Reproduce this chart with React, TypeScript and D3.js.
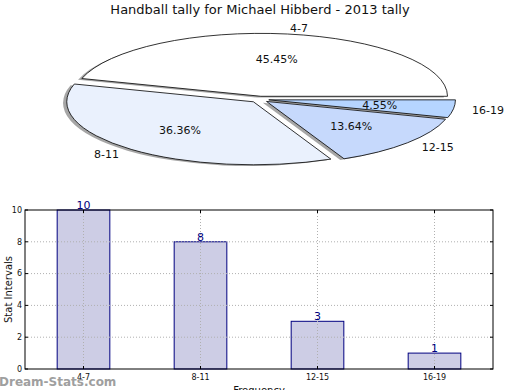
import * as d3 from 'd3';

const categories = ['4-7', '8-11', '12-15', '16-19'];
const tallies = [10, 8, 3, 1];
const sliceColors = ['#ffffff', '#eaf1fd', '#c6d9fc', '#b6d5ff'];
const yTicks = [0, 2, 4, 6, 8, 10];

const W = 520;
const H = 390;
const font = 'DejaVu Sans, sans-serif';

// pie (matplotlib style ellipse, exploded wedges with shadow)
const pieC = { x: 259.5, y: 99.4 };
const rx = 186.7;
const ry = 63;
const explode = 0.05;

// bars
const margin = { top: 210, bottom: 369, left: 25, right: 493 };

const App = () => {
  const total = d3.sum(tallies);

  const pie = d3
    .pie<number>()
    .sort(null)
    .startAngle(Math.PI / 2)
    .endAngle(Math.PI / 2 - 2 * Math.PI);
  const arcs = pie(tallies);

  const arc = d3.arc<d3.PieArcDatum<number>>().innerRadius(0).outerRadius(1);

  const pt = (a: number, r: number) => ({
    x: pieC.x + r * rx * Math.sin(a),
    y: pieC.y - r * ry * Math.cos(a),
  });

  const xScale = d3
    .scaleLinear()
    .domain([-0.5, categories.length - 0.5])
    .range([margin.left, margin.right]);

  const yScale = d3
    .scaleLinear()
    .domain([0, 10])
    .range([margin.bottom, margin.top]);

  const barW = 0.45 * (xScale(1) - xScale(0));

  return (
    <svg width={W} height={H} style={{ position: 'absolute', left: 0, top: 0, background: '#fff' }}>
      <text x={260} y={14} textAnchor="middle" fontFamily={font} fontSize={13} fill="#111">
        Handball tally for Michael Hibberd - 2013 tally
      </text>

      {/* shadows */}
      <g transform={`translate(${pieC.x},${pieC.y}) scale(${rx},${ry})`}>
        {arcs.map((d, i) => {
          const mid = (d.startAngle + d.endAngle) / 2;
          const dx = explode * Math.sin(mid) - 0.02;
          const dy = -explode * Math.cos(mid) + 0.02;
          return (
            <path
              key={'s' + i}
              d={arc(d) as string}
              transform={`translate(${dx},${dy})`}
              fill="#4d4d4d"
              opacity={0.5}
            />
          );
        })}
        {arcs.map((d, i) => {
          const mid = (d.startAngle + d.endAngle) / 2;
          const dx = explode * Math.sin(mid);
          const dy = -explode * Math.cos(mid);
          return (
            <path
              key={'w' + i}
              d={arc(d) as string}
              transform={`translate(${dx},${dy})`}
              fill={sliceColors[i]}
              stroke="#000"
              strokeWidth={0.8}
              vectorEffect="non-scaling-stroke"
            />
          );
        })}
      </g>

      {arcs.map((d, i) => {
        const mid = (d.startAngle + d.endAngle) / 2;
        const lab = pt(mid, 1.1 + explode);
        const pct = pt(mid, 0.6 + explode);
        return (
          <g key={'l' + i} fontFamily={font} fontSize={11} fill="#111">
            <text
              x={lab.x}
              y={lab.y}
              dy="0.35em"
              textAnchor={Math.sin(mid) >= 0 ? 'start' : 'end'}
            >
              {categories[i]}
            </text>
            <text x={pct.x} y={pct.y} dy="0.35em" textAnchor="middle">
              {((tallies[i] / total) * 100).toFixed(2)}%
            </text>
          </g>
        );
      })}

      {/* bar chart */}
      <g>
        {categories.map((c, i) => (
          <rect
            key={c}
            x={xScale(i) - barW / 2}
            y={yScale(tallies[i])}
            width={barW}
            height={yScale(0) - yScale(tallies[i])}
            fill="#cdcde5"
            stroke="#000080"
            strokeWidth={1}
          />
        ))}
        {/* grid */}
        {yTicks.slice(1, -1).map((t) => (
          <line
            key={'gy' + t}
            x1={margin.left}
            x2={margin.right}
            y1={yScale(t)}
            y2={yScale(t)}
            stroke="#b0b0b0"
            strokeDasharray="1,2"
          />
        ))}
        {categories.map((c, i) => (
          <line
            key={'gx' + c}
            x1={xScale(i)}
            x2={xScale(i)}
            y1={margin.top}
            y2={margin.bottom}
            stroke="#b0b0b0"
            strokeDasharray="1,2"
          />
        ))}
        <rect
          x={margin.left}
          y={margin.top}
          width={margin.right - margin.left}
          height={margin.bottom - margin.top}
          fill="none"
          stroke="#000"
          strokeWidth={1}
        />
        {yTicks.map((t) => (
          <g key={'ty' + t}>
            <line x1={margin.left} x2={margin.left + 3} y1={yScale(t)} y2={yScale(t)} stroke="#000" />
            <line x1={margin.right} x2={margin.right - 3} y1={yScale(t)} y2={yScale(t)} stroke="#000" />
            <text
              x={margin.left - 3}
              y={yScale(t)}
              dy="0.35em"
              textAnchor="end"
              fontFamily={font}
              fontSize={8}
              fill="#111"
            >
              {t}
            </text>
          </g>
        ))}
        {categories.map((c, i) => (
          <g key={'tx' + c}>
            <line x1={xScale(i)} x2={xScale(i)} y1={margin.bottom} y2={margin.bottom - 3} stroke="#000" />
            <line x1={xScale(i)} x2={xScale(i)} y1={margin.top} y2={margin.top + 3} stroke="#000" />
            <text
              x={xScale(i)}
              y={margin.bottom + 11}
              textAnchor="middle"
              fontFamily={font}
              fontSize={8}
              fill="#111"
            >
              {c}
            </text>
            <text
              x={xScale(i)}
              y={yScale(tallies[i]) - 1}
              textAnchor="middle"
              fontFamily={font}
              fontSize={11}
              fill="#000080"
            >
              {tallies[i]}
            </text>
          </g>
        ))}
        <text
          transform={`translate(8,${(margin.top + margin.bottom) / 2}) rotate(-90)`}
          textAnchor="middle"
          dy="0.35em"
          fontFamily={font}
          fontSize={10}
          fill="#111"
        >
          Stat Intervals
        </text>
        <text x={259} y={394} textAnchor="middle" fontFamily={font} fontSize={10} fill="#111">
          Frequency
        </text>
        <text x={-1} y={386} fontFamily={font} fontSize={12} fontWeight="bold" fill="#888" opacity={0.8}>
          Dream-Stats.com
        </text>
      </g>
    </svg>
  );
};

export default App;
